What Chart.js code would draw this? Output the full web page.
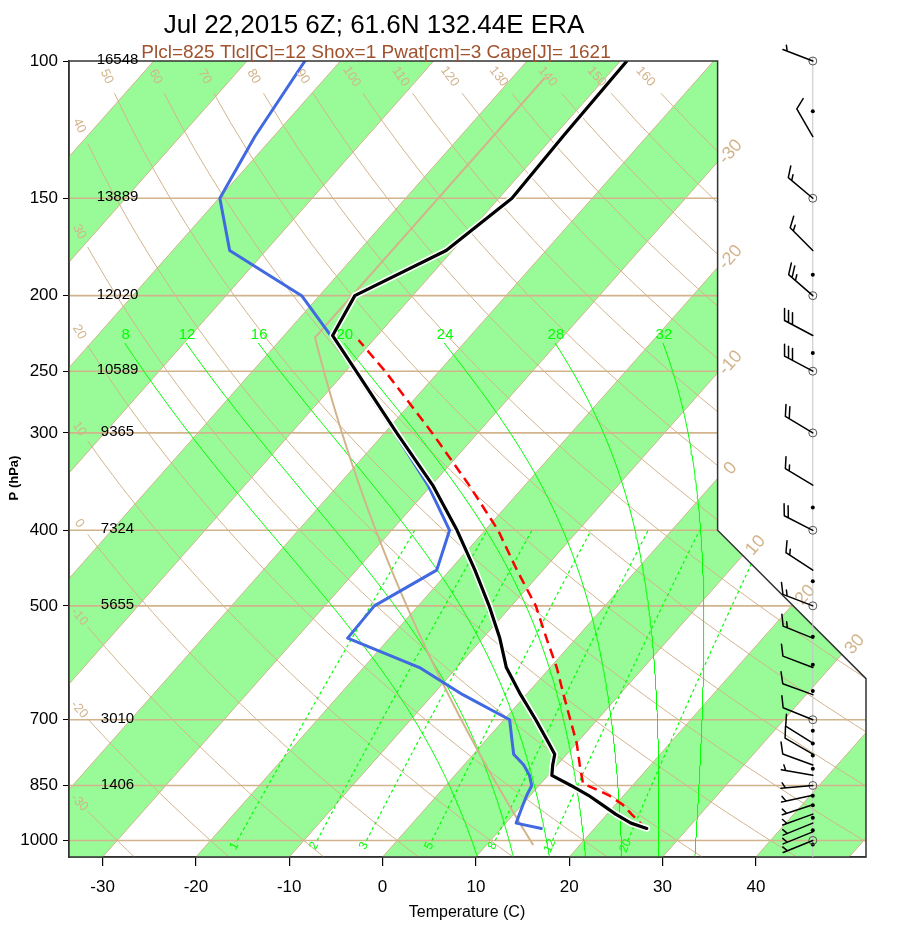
<!DOCTYPE html>
<html>
<head>
<meta charset="utf-8">
<title>Skew-T Jul 22,2015 6Z</title>
<script src="https://cdn.jsdelivr.net/npm/chart.js@4.4.1/dist/chart.umd.min.js"></script>
<style>
  html, body { margin: 0; padding: 0; background: #fff; }
  #wrap { width: 900px; height: 930px; }
</style>
</head>
<body>
<div id="wrap"><canvas id="skewt" width="900" height="930"></canvas></div>
<script>
// sounding (hPa, deg C)
const levels = [965, 950, 925, 900, 875, 850, 825, 800, 775, 750, 700, 650, 600, 550, 500, 450, 400, 350, 300, 250, 225, 200, 175, 150, 125, 100];
const tempC  = [25.6, 23.4, 20.9, 18.6, 16.2, 13.4, 10.4, 9.5, 8.7, 7.0, 3.4, -0.6, -4.7, -8.2, -12.4, -17.3, -23.0, -29.9, -38.7, -48.9, -54.8, -56.2, -50.7, -48.6, -49.0, -49.3];
const dewC   = [14.3, 11.1, 10.6, 10.1, 9.6, 9.2, 8.0, 6.4, 4.3, 3.1, 0.6, -6.8, -14.0, -24.5, -24.7, -21.4, -23.8, -30.4, -38.9, -49.1, -55.0, -61.9, -73.9, -79.9, -82.0, -83.8];

// lifted parcel
const parcelP = [965, 950, 925, 900, 875, 845, 800, 750, 700, 650, 600, 550, 500, 450, 400, 350, 300, 250, 228];
const parcelT = [25.6, 24.4, 22.6, 20.8, 18.4, 14.5, 12.4, 10.0, 7.1, 4.0, 0.7, -3.2, -7.4, -12.8, -18.6, -26.0, -34.9, -45.8, -51.6];

// winds (deg, knots)
const windP   = [100, 125, 150, 175, 200, 225, 250, 300, 350, 400, 450, 500, 550, 600, 650, 700, 750, 775, 800, 825, 850, 875, 900, 925, 950, 975, 1000];
const windDir = [291, 330, 310, 315, 311, 298, 298, 301, 301, 297, 303, 291, 292, 291, 290, 292, 302, 300, 290, 280, 265, 258, 252, 250, 248, 248, 248];
const windKt  = [5, 10, 15, 15, 25, 30, 30, 20, 15, 20, 15, 15, 15, 10, 10, 10, 10, 10, 10, 5, 5, 5, 5, 5, 5, 5, 5];
const windDotP = [116, 188, 237, 374, 465, 548, 595, 643, 723, 751, 778, 809, 876, 901, 935, 970, 1012];

// left side heights of the standard levels
const heightP = [100, 150, 200, 250, 300, 400, 500, 700, 850];
const heightM = ['16548', '13889', '12020', '10589', '9365', '7324', '5655', '3010', '1406'];

// axes and background lines
const pressureTicks = [100, 150, 200, 250, 300, 400, 500, 700, 850, 1000];
const tempTicks = [-30, -20, -10, 0, 10, 20, 30, 40];
const isobars = [150, 200, 250, 300, 400, 500, 700, 850, 1000];
const isotherms = [-110, -100, -90, -80, -70, -60, -50, -40, -30, -20, -10, 0, 10, 20, 30, 40, 50];
const bandStarts = [-100, -80, -60, -40, -20, 0, 20, 40];
const isothermLabels = [-30, -20, -10, 0, 10, 20, 30];
const dryTheta = [-30, -20, -10, 0, 10, 20, 30, 40, 50, 60, 70, 80, 90, 100, 110, 120, 130, 140, 150, 160];
const moistT = [8, 12, 16, 20, 24, 28, 32];
const mixRatio = [1, 2, 3, 5, 8, 12, 20];

const TITLE = 'Jul 22,2015 6Z; 61.6N 132.44E ERA';
const SUBTITLE = 'Plcl=825 Tlcl[C]=12 Shox=1 Pwat[cm]=3 Cape[J]= 1621';

// skew-T geometry
const K_SKEW = 32.1;
const P_BOT = 1050, P_TOP = 100;
const X_MIN = -33.6, X_MAX = 51.8;
const FRAME = [[X_MIN, P_TOP], [35.9, P_TOP], [35.9, 400], [X_MAX, 620], [X_MAX, P_BOT], [X_MIN, P_BOT]];
const STAFF_X = 46.1;
const HGT_X = -28.4;

const FONT = '"Liberation Sans", Arial, Helvetica, sans-serif';
const TAN = '#d2b48c';
const LIME = '#00ff00';

function sx(T, p) { return T + K_SKEW * Math.log(P_BOT / p); }
function pt(T, p) { return { x: sx(T, p), y: p }; }

// thermodynamics for the reference lines
function dryT(th, p) { return (th + 273.15) * Math.pow(p / 1000, 0.2857) - 273.15; }
function esat(t) { return 6.112 * Math.exp(17.67 * t / (t + 243.5)); }
function rsat(t, p) { const e = esat(t); return 0.622 * e / (p - e); }
function moistLapse(t, p) {
  const T = t + 273.15, rs = rsat(t, p), Lv = 2.501e6, Rd = 287.04, cp = 1005.7;
  return (Rd * T + Lv * rs) / (cp + Lv * Lv * rs * 0.622 / (Rd * T * T)) / p;
}
function moistStep(t, p, dp) {
  const k1 = moistLapse(t, p);
  const k2 = moistLapse(t + k1 * dp / 2, p + dp / 2);
  return t + k2 * dp;
}
function mixT(w, p) {
  const e = w * p / (622 + w), l = Math.log(e / 6.112);
  return 243.5 * l / (17.67 - l);
}
function stdAtmT(p) {
  return p >= 226.32 ? 288.15 * Math.pow(p / 1013.25, 0.190263) - 273.15 : -56.5;
}
function bisect(f, lo, hi) {
  let flo = f(lo);
  for (let i = 0; i < 60; i++) {
    const mid = (lo + hi) / 2, fm = f(mid);
    if ((fm < 0) === (flo < 0)) { lo = mid; flo = fm; } else { hi = mid; }
  }
  return (lo + hi) / 2;
}

function line(points, color, width, dash) {
  return { data: points, borderColor: color, borderWidth: width, borderDash: dash || [],
    pointRadius: 0, pointHoverRadius: 0, showLine: true, fill: false, tension: 0 };
}

// where each dry adiabat gets its label (top edge or left edge)
const DRY_LABEL_P = 104.7;
function dryLabelP(th) {
  if (sx(dryT(th, DRY_LABEL_P), DRY_LABEL_P) > X_MIN + 2.6) return DRY_LABEL_P;
  return bisect(p => sx(dryT(th, p), p) - (X_MIN + 1.1), 100, 1050);
}

const dryLines = dryTheta.map(th => {
  let pEnd = 110;
  if (dryLabelP(th) !== DRY_LABEL_P) pEnd = bisect(p => sx(dryT(th, p), p) - (X_MIN + 2.0), 100, 1050);
  const pts = [];
  for (let p = P_BOT; p > pEnd; p -= 10) pts.push(pt(dryT(th, p), p));
  pts.push(pt(dryT(th, pEnd), pEnd));
  return line(pts, TAN, 1);
});

const moistLines = moistT.map(t0 => {
  const down = [];
  let t = t0;
  for (let p = 1000; p < P_BOT; p += 5) { t = moistStep(t, p, 5); down.push(pt(t, p + 5)); }
  const up = [pt(t0, 1000)];
  t = t0;
  for (let p = 1000; p > 230; p -= 5) { t = moistStep(t, p, -5); up.push(pt(t, p - 5)); }
  return line(down.reverse().concat(up), LIME, 1);
});

const mixLines = mixRatio.map(w => {
  const pts = [];
  for (let p = 1000; p >= 400; p -= 25) pts.push(pt(mixT(w, p), p));
  return line(pts, LIME, 1.2, [3, 3]);
});

const stdPts = [];
for (let p = 1013.25; p > 226.32; p -= 20) stdPts.push(pt(stdAtmT(p), p));
stdPts.push(pt(-56.5, 226.32), pt(-56.5, 105));

const isobarLines = isobars.map(p => line([{ x: X_MIN, y: p }, { x: X_MAX, y: p }], TAN, 1.6));
const isothermLines = isotherms.map(t => line([pt(t, P_BOT), pt(t, P_TOP)], TAN, 1));

const datasets = [
  line(levels.map((p, i) => pt(tempC[i], p)), '#000000', 3.2),
  line(levels.map((p, i) => pt(tempC[i], p)), '#ffffff', 6.5),
  line(levels.map((p, i) => pt(dewC[i], p)), '#4169e1', 3),
  line(parcelP.map((p, i) => pt(parcelT[i], p)), '#ff0000', 2.5, [10, 6]),
  line(stdPts, TAN, 2),
  ...mixLines,
  ...moistLines,
  ...dryLines,
  ...isobarLines,
  ...isothermLines
];
datasets.slice(0, 3).forEach(d => { d.borderJoinStyle = 'round'; d.borderCapStyle = 'round'; });

function framePath(ctx, X, Y) {
  ctx.beginPath();
  FRAME.forEach(([a, b], i) => i ? ctx.lineTo(X(a), Y(b)) : ctx.moveTo(X(a), Y(b)));
  ctx.closePath();
}

function rotText(ctx, txt, x, y, ang) {
  ctx.save();
  ctx.translate(x, y);
  ctx.rotate(ang);
  ctx.fillText(txt, 0, 0);
  ctx.restore();
}

function segHit(p1, p2, p3, p4) {
  const d = (p2[0] - p1[0]) * (p4[1] - p3[1]) - (p2[1] - p1[1]) * (p4[0] - p3[0]);
  if (Math.abs(d) < 1e-9) return null;
  const t = ((p3[0] - p1[0]) * (p4[1] - p3[1]) - (p3[1] - p1[1]) * (p4[0] - p3[0])) / d;
  const u = ((p3[0] - p1[0]) * (p2[1] - p1[1]) - (p3[1] - p1[1]) * (p2[0] - p1[0])) / d;
  if (t < 0 || t > 1 || u < 0 || u > 1) return null;
  return [p1[0] + t * (p2[0] - p1[0]), p1[1] + t * (p2[1] - p1[1])];
}

function drawBarb(ctx, x0, y0, dir, spd) {
  const L = 32, fl = 12, gap = 4.5, ang = 62 * Math.PI / 180;
  const r = dir * Math.PI / 180;
  const ux = Math.sin(r), uy = -Math.cos(r);
  const tx = x0 + L * ux, ty = y0 + L * uy;
  const fx = ux * Math.cos(ang) - uy * Math.sin(ang);
  const fy = ux * Math.sin(ang) + uy * Math.cos(ang);
  ctx.beginPath();
  ctx.moveTo(x0, y0);
  ctx.lineTo(tx, ty);
  let rest = Math.round(spd / 5) * 5, k = 0;
  while (rest >= 10) {
    const bx = tx - ux * k * gap, by = ty - uy * k * gap;
    ctx.moveTo(bx, by);
    ctx.lineTo(bx + fx * fl, by + fy * fl);
    rest -= 10; k++;
  }
  if (rest >= 5) {
    if (k === 0) k = 1;
    const bx = tx - ux * k * gap, by = ty - uy * k * gap;
    ctx.moveTo(bx, by);
    ctx.lineTo(bx + fx * fl / 2, by + fy * fl / 2);
  }
  ctx.stroke();
}

const skewBg = {
  id: 'skewBg',
  beforeDatasetsDraw(chart) {
    const { ctx, scales: { x, y } } = chart;
    const X = v => x.getPixelForValue(v), Y = v => y.getPixelForValue(v);
    ctx.save();
    framePath(ctx, X, Y);
    ctx.clip();
    ctx.fillStyle = '#98fb98';
    bandStarts.forEach(t => {
      ctx.beginPath();
      ctx.moveTo(X(sx(t, P_BOT)), Y(P_BOT));
      ctx.lineTo(X(sx(t + 10, P_BOT)), Y(P_BOT));
      ctx.lineTo(X(sx(t + 10, P_TOP)), Y(P_TOP));
      ctx.lineTo(X(sx(t, P_TOP)), Y(P_TOP));
      ctx.closePath();
      ctx.fill();
    });
  },
  afterDatasetsDraw(chart) {
    chart.ctx.restore();
  },
  afterDraw(chart) {
    const { ctx, scales: { x, y } } = chart;
    const X = v => x.getPixelForValue(v), Y = v => y.getPixelForValue(v);
    ctx.save();

    // outline of the diagram
    ctx.strokeStyle = '#333';
    ctx.lineWidth = 1.5;
    framePath(ctx, X, Y);
    ctx.stroke();

    ctx.textAlign = 'center';
    ctx.textBaseline = 'middle';

    // isotherm labels on the right edge
    const edges = [];
    for (let i = 1; i <= 3; i++) edges.push([[X(FRAME[i][0]), Y(FRAME[i][1])], [X(FRAME[i + 1][0]), Y(FRAME[i + 1][1])]]);
    ctx.fillStyle = TAN;
    ctx.font = '18px ' + FONT;
    isothermLabels.forEach(t => {
      const a = [X(sx(t, P_BOT)), Y(P_BOT)], b = [X(sx(t, P_TOP)), Y(P_TOP)];
      let hit = null;
      edges.forEach(e => { hit = hit || segHit(a, b, e[0], e[1]); });
      if (!hit) return;
      const ang = Math.atan2(b[1] - a[1], b[0] - a[0]);
      rotText(ctx, String(t), hit[0] + 13, hit[1] - 10, ang);
    });

    // dry adiabat labels
    ctx.font = '13px ' + FONT;
    dryTheta.forEach(th => {
      const p = dryLabelP(th);
      const x1 = X(sx(dryT(th, p), p)), y1 = Y(p);
      const x2 = X(sx(dryT(th, p + 5), p + 5)), y2 = Y(p + 5);
      rotText(ctx, String(th), x1, y1, Math.atan2(y2 - y1, x2 - x1));
    });

    // moist adiabat labels
    ctx.fillStyle = LIME;
    ctx.font = '15px ' + FONT;
    moistLines.forEach((d, i) => {
      const top = d.data[d.data.length - 1];
      ctx.fillText(String(moistT[i]), X(top.x) + 1, Y(top.y) - 8);
    });

    // mixing ratio labels
    ctx.font = '12px ' + FONT;
    mixRatio.forEach(w => {
      const x1 = X(sx(mixT(w, 1016), 1016)), y1 = Y(1016);
      const x2 = X(sx(mixT(w, 990), 990)), y2 = Y(990);
      rotText(ctx, String(w), x1, y1, Math.atan2(y2 - y1, x2 - x1));
    });

    // heights of standard levels
    ctx.fillStyle = '#000';
    ctx.font = '15px ' + FONT;
    heightP.forEach((p, i) => ctx.fillText(heightM[i], X(HGT_X), Y(p) - 1));

    // wind staff, level markers and barbs
    const sxp = X(STAFF_X);
    ctx.strokeStyle = '#c4c4c4';
    ctx.lineWidth = 1;
    ctx.beginPath();
    ctx.moveTo(sxp, Y(P_TOP) - 4);
    ctx.lineTo(sxp, Y(P_BOT));
    ctx.stroke();
    ctx.fillStyle = '#000';
    windDotP.forEach(p => { ctx.beginPath(); ctx.arc(sxp, Y(p), 2, 0, 2 * Math.PI); ctx.fill(); });
    ctx.strokeStyle = '#555';
    pressureTicks.forEach(p => { ctx.beginPath(); ctx.arc(sxp, Y(p), 4, 0, 2 * Math.PI); ctx.stroke(); });
    ctx.strokeStyle = '#000';
    ctx.lineWidth = 1.5;
    ctx.lineCap = 'round';
    windP.forEach((p, i) => drawBarb(ctx, sxp, Y(p), windDir[i], windKt[i]));

    // titles
    ctx.fillStyle = '#000';
    ctx.textBaseline = 'alphabetic';
    ctx.font = '26px ' + FONT;
    ctx.fillText(TITLE, 374, 33);
    ctx.fillStyle = '#a0522d';
    ctx.font = '19px ' + FONT;
    ctx.fillText(SUBTITLE, 376, 58);
    ctx.fillStyle = '#000';
    ctx.font = '16px ' + FONT;
    ctx.fillText('Temperature (C)', 467, 917);
    ctx.font = 'bold 13px ' + FONT;
    rotText(ctx, 'P (hPa)', 18, 478, -Math.PI / 2);
    ctx.restore();
  }
};

Chart.defaults.font.family = FONT;

new Chart(document.getElementById('skewt'), {
  type: 'scatter',
  data: { datasets },
  plugins: [skewBg],
  options: {
    responsive: false,
    animation: false,
    events: [],
    layout: { padding: { top: 61, right: 34, left: 0, bottom: 0 } },
    plugins: { legend: { display: false }, tooltip: { enabled: false } },
    scales: {
      x: {
        type: 'linear', min: X_MIN, max: X_MAX,
        afterFit: s => { s.height = 73; },
        afterBuildTicks: s => { s.ticks = tempTicks.map(v => ({ value: v })); },
        grid: { drawOnChartArea: false, tickLength: 9, color: '#000', lineWidth: 1.2 },
        border: { color: '#333', width: 1.5 },
        ticks: { color: '#000', font: { size: 17 }, padding: 11, autoSkip: false, maxRotation: 0, callback: v => v }
      },
      y: {
        type: 'logarithmic', reverse: true, min: P_TOP, max: P_BOT,
        afterFit: s => { s.width = 69; },
        afterBuildTicks: s => { s.ticks = pressureTicks.map(v => ({ value: v })); },
        grid: { drawOnChartArea: false, tickLength: 6, color: '#000', lineWidth: 1 },
        border: { color: '#333', width: 1.5 },
        ticks: { color: '#000', font: { size: 17 }, padding: 5, autoSkip: false, callback: v => v }
      }
    }
  }
});
</script>
</body>
</html>
